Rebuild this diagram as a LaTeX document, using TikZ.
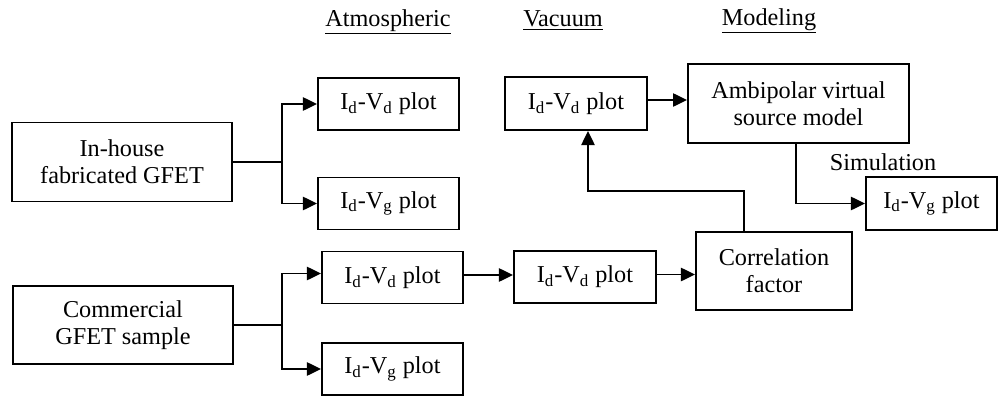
\documentclass[tikz,border=0pt]{standalone}
\usepackage{fontspec}
\setmainfont{Liberation Serif}
\usepackage{tikz}
\usetikzlibrary{arrows.meta}
\newcommand{\IdVd}{I\textsubscript{d}-V\textsubscript{d} plot}
\newcommand{\IdVg}{I\textsubscript{d}-V\textsubscript{g} plot}

\begin{document}
\begin{tikzpicture}[x=0.02cm,y=-0.02cm,
    blk/.style={draw,line width=1.1pt,align=center,inner sep=0pt,
      font=\fontsize{13.8}{15.5}\selectfont},
    plotbox/.style={blk,minimum width=2.82cm,minimum height=1.04cm},
    bigbox/.style={blk,minimum width=4.4cm,minimum height=1.58cm},
    heading/.style={font=\fontsize{13.8}{15.5}\selectfont},
    arr/.style={line width=1.1pt,-{Triangle[length=8pt,width=7.5pt]}},
    lin/.style={line width=1.1pt}]
\useasboundingbox (0,0) rectangle (998,399);

\node[heading] (hatm) at (388,22) {\underline{Atmospheric}};
\node[heading] (hvac) at (563,21) {\underline{Vacuum}};
\node[heading] (hmod) at (769,21) {\underline{Modeling}};

\node[bigbox] (inhouse) at (122,162) {In-house\\fabricated GFET};
\node[bigbox,minimum height=1.56cm] (commercial) at (123,325) {Commercial\\GFET sample};

\node[plotbox] (atvdA) at (388.5,104) {\IdVd};
\node[plotbox] (atvgA) at (388.5,203.5) {\IdVg};
\node[plotbox] (atvdB) at (392.5,277.5) {\IdVd};
\node[plotbox] (atvgB) at (392.5,369) {\IdVg};

\node[plotbox,minimum width=2.84cm,minimum height=1.06cm] (vacA) at (576,103.5) {\IdVd};
\node[plotbox,minimum width=2.84cm] (vacB) at (585,277) {\IdVd};

\node[bigbox,minimum width=4.42cm] (amb) at (798.5,103.5) {Ambipolar virtual\\source model};
\node[blk,minimum width=3.12cm,minimum height=1.56cm] (corr) at (774,271) {Correlation\\factor};
\node[plotbox,minimum width=2.62cm,minimum height=1.06cm] (simvg) at (931.5,203.5) {\IdVg};
\node[heading] (simlabel) at (883,162) {Simulation};

\coordinate (jA) at (282,162);
\coordinate (jB) at (282,325);
\coordinate (bend) at (588,191);

\draw[lin] (inhouse.east) -- (jA);
\draw[arr] (jA) |- (atvdA.west);
\draw[arr] (jA) |- (atvgA.west);
\draw[lin] (commercial.east) -- (jB);
\draw[arr] (jB) |- ([yshift=0.08cm]atvdB.west);
\draw[arr] (jB) |- (atvgB.west);

\draw[arr] ([yshift=0.05cm]atvdB.east) -- ([yshift=0.05cm]atvdB.east -| vacB.west);
\draw[arr] ([yshift=0.05cm]vacB.east) -- ([yshift=0.05cm]vacB.east -| corr.west);
\draw[arr] ([xshift=-0.6cm]corr.north) |- (bend) -- (bend |- vacA.south);
\draw[arr] ([yshift=0.07cm]vacA.east) -- ([yshift=0.07cm]vacA.east -| amb.west);
\draw[arr] ([xshift=-0.05cm]amb.south) |- (simvg.west);
\end{tikzpicture}
\end{document}
